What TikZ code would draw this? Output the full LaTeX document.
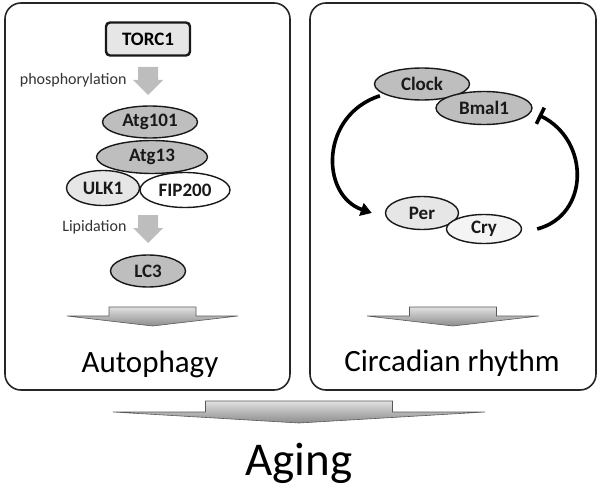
\documentclass[tikz,border=0pt]{standalone}
\usepackage{fontspec}
\setmainfont{Carlito}
\usepackage{tikz}
\usetikzlibrary{positioning, shapes.geometric, arrows.meta}

\definecolor{darkprot}{HTML}{BEBEBE}
\definecolor{lightprot}{HTML}{E6E6E6}
\definecolor{paleprot}{HTML}{F4F4F4}
\definecolor{blockgray}{HTML}{BDBDBD}

% flat block arrow: centre x, top y, half shaft, half wings, shaft height, total height
\newcommand{\flatarrow}[6]{%
  \draw[flatarrowstyle] ({#1-#3},#2) -- ({#1+#3},#2) -- ({#1+#3},{#2+#5}) -- ({#1+#4},{#2+#5})
    -- (#1,{#2+#6}) -- ({#1-#4},{#2+#5}) -- ({#1-#3},{#2+#5}) -- cycle;}

\begin{document}
\begin{tikzpicture}[x=1pt, y=-1pt,
    panel/.style={draw=black!85, line width=1.6pt, rounded corners=16pt},
    prot/.style={draw=black!90, ellipse, line width=1.4pt, inner sep=0pt,
      font=\bfseries\fontsize{19}{19}\selectfont, text=black!90},
    small/.style={font=\fontsize{16}{16}\selectfont, text=black!80},
    big/.style={font=\fontsize{31}{31}\selectfont, anchor=base},
    flatarrowstyle/.style={draw=black!65, line width=0.6pt, top color=black!12, bottom color=black!45},
    loop/.style={line width=3.6pt, black}]
		\useasboundingbox (0,0) rectangle (600,487);
		
		% Panels
		\draw[panel] (5,3) rectangle (290,390);
		\draw[panel] (310,3) rectangle (596,390);
		
		% Autophagy side
		\node[draw=black!90, fill=lightprot, rounded corners=4pt, line width=2.4pt,
		  minimum width=84pt, minimum height=33pt, inner sep=0pt,
		  font=\bfseries\fontsize{19}{19}\selectfont] (torc) at (148,39) {TORC1};
		\coordinate (a1) at (148,67);
		\fill[blockgray] (a1) ++(-10,0) -- ++(20,0) -- ++(0,13) -- ++(5,0) -- ++(-15,15) -- ++(-15,-15) -- ++(5,0) -- cycle;
		\node[small, anchor=east] (phos) at (130,80) {phosphorylation};
		
		\node[prot, fill=darkprot, minimum width=95pt, minimum height=32pt] (atgA) at (150,122) {Atg101};
		\node[prot, fill=darkprot, minimum width=111pt, minimum height=33pt] (atgB) at (152,157) {Atg13};
		\node[prot, fill=lightprot, minimum width=73pt, minimum height=35pt] (ulk) at (103,188) {ULK1};
		\node[prot, fill=white, minimum width=90pt, minimum height=35pt] (fip) at (185,190) {FIP200};
		
		\coordinate (a2) at (148,215);
		\fill[blockgray] (a2) ++(-10,0) -- ++(20,0) -- ++(0,13) -- ++(5,0) -- ++(-15,15) -- ++(-15,-15) -- ++(5,0) -- cycle;
		\node[small, anchor=east] (lipid) at (130,227) {Lipidation};
		
		\node[prot, fill=darkprot, minimum width=75pt, minimum height=32pt] (lc) at (148,271) {LC3};
		
		\flatarrow{152.5}{307}{43.5}{85.5}{9}{19}
		\node[big] (auto) at (150,372) {Autophagy};
		
		% Circadian side
		\node[prot, fill=darkprot, minimum width=95pt, minimum height=32pt] (clock) at (422,84) {Clock};
		\node[prot, fill=darkprot, minimum width=96pt, minimum height=33pt] (bmal) at (484,108) {Bmal1};
		\node[prot, fill=lightprot, minimum width=73pt, minimum height=33pt] (per) at (422,213) {Per};
		\node[prot, fill=paleprot, minimum width=75pt, minimum height=29pt] (cry) at (484,229) {Cry};
		
		\coordinate (clockout) at ([xshift=-8pt]clock.south west);
		\coordinate (perin) at ([xshift=-13pt]per.west);
		\coordinate (cryout) at ([xshift=15pt]cry.east);
		\coordinate (bmalin) at ([xshift=6pt, yshift=-7pt]bmal.east);
		
		\draw[loop, -{Triangle[length=11pt, width=13pt]}] (clockout) .. controls (320,115) and (320,195) .. (perin);
		\draw[loop, -{Bar[width=18pt, line width=3.6pt]}] (cryout) .. controls (590,215) and (590,140) .. (bmalin);
		
		\flatarrow{453}{307}{43.5}{86}{9}{19}
		\node[big] (circ) at (452,371) {Circadian rhythm};
		
		% Aging
		\flatarrow{299}{401}{93.5}{186}{11}{22}
		\node[big, font=\fontsize{47}{47}\selectfont] (aging) at (299,475) {Aging};
	\end{tikzpicture}
\end{document}
